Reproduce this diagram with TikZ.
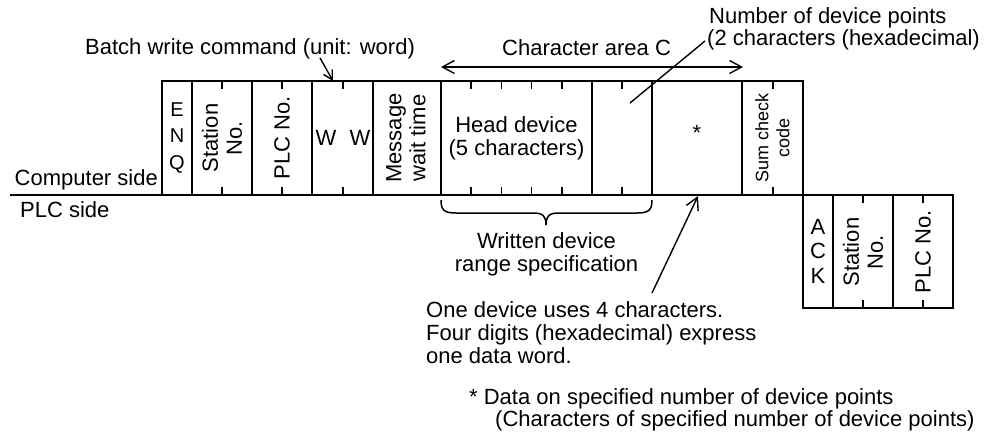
\documentclass[tikz,border=0pt]{standalone}
\usepackage{fontspec}
\setmainfont{Liberation Sans}
\usetikzlibrary{arrows.meta}
\tikzset{
  frame/.style={line width=2pt},
  lbl/.style={inner sep=0pt, font=\fontsize{22}{24}\selectfont},
  vlbl/.style={lbl, rotate=90, align=center},
  lead/.style={line width=1.4pt},
  arr/.style={lead, -{Straight Barb[length=12pt,width=13pt,line width=1.4pt]}},
  dbl/.style={lead, {Straight Barb[length=12pt,width=13pt,line width=1.4pt]}-{Straight Barb[length=12pt,width=13pt,line width=1.4pt]}},
  tickline/.style={line width=1.6pt},
}
\begin{document}
\begin{tikzpicture}[x=1pt,y=-1pt]
\path[use as bounding box] (0,0) rectangle (990,434);

% frames
\draw[frame] (10,195) -- (953,195);
\foreach \a/\b in {162/192,192/252,252/312,312/373,373/441,441/592,592/652,652/742,742/803}
  \draw[frame] (\a,81) rectangle (\b,195);
\foreach \a/\b in {803/833,833/893,893/953}
  \draw[frame] (\a,195) rectangle (\b,308);
\foreach \x in {222,282,343,471.2,501.4,531.6,561.8,622,773} {
  \draw[tickline] (\x,81) -- (\x,89);
  \draw[tickline] (\x,195) -- (\x,187);
}
\foreach \x in {863,923} {
  \draw[tickline] (\x,195) -- (\x,203);
  \draw[tickline] (\x,308) -- (\x,300);
}

% box labels
\node[lbl, align=center, font=\fontsize{20}{26.5}\selectfont] (enq) at (177,138) {E\\N\\Q};
\node[vlbl] (stn) at (222,138) {Station\\No.};
\node[vlbl] (plc) at (282,138) {PLC No.};
\node[lbl] (w1) at (326,138) {W};
\node[lbl] (w2) at (360,138) {W};
\node[vlbl] (msg) at (406,138) {Message\\wait time};
\node[lbl, align=center, font=\fontsize{22}{23}\selectfont] (head) at (516.5,138) {Head device\\(5 characters)};
\node[lbl] (data) at (697,133) {*};
\node[vlbl, font=\fontsize{18}{21}\selectfont] (sum) at (772.5,138) {Sum check\\code};
\node[lbl, align=center, font=\fontsize{22}{24.5}\selectfont] (ack) at (818,251) {A\\C\\K};
\node[vlbl] (stn2) at (863,252) {Station\\No.};
\node[vlbl] (plc2) at (923,252) {PLC No.};

% side labels
\node[lbl, anchor=base east] (comp) at (158,185) {Computer side};
\node[lbl, anchor=base west] (plcside) at (20,217) {PLC side};

% batch write command
\node[lbl, anchor=base west] (batch) at (85,54) {Batch write command (unit: word)};
\coordinate (batchfrom) at (320,58);
\coordinate (batchto) at (333,81);
\draw[lead, -{Straight Barb[length=9pt,width=10pt,line width=1.4pt]}] (batchfrom) -- (batchto);

% character area C
\node[lbl, anchor=base west] (chararea) at (502,55) {Character area C};
\coordinate (cal) at (441,67);
\coordinate (car) at (743,67);
\draw[dbl] (cal) -- (car);

% number of device points
\node[lbl, anchor=base west] (ndp1) at (709,23) {Number of device points};
\node[lbl, anchor=base west] (ndp2) at (707,45) {(2 characters (hexadecimal)};
\coordinate (ndpfrom) at (705,41);
\coordinate (ndpto) at (630,103);
\draw[lead] (ndpfrom) -- (ndpto);

% brace
\draw[line width=1.5pt] (441,200) .. controls (441,210) and (444,213) .. (456,213) -- (533,213)
  .. controls (543,213) and (546,216) .. (546,225)
  .. controls (546,216) and (549,213) .. (559,213) -- (637,213)
  .. controls (649,213) and (652,210) .. (652,200);
\node[lbl, anchor=base] (wr1) at (546.5,248) {Written device};
\node[lbl, anchor=base] (wr2) at (546.5,271) {range specification};

% one device
\node[lbl, anchor=base west] (od1) at (426,317) {One device uses 4 characters.};
\node[lbl, anchor=base west] (od2) at (426,340) {Four digits (hexadecimal) express};
\node[lbl, anchor=base west] (od3) at (426,363) {one data word.};
\coordinate (odfrom) at (652,293);
\coordinate (odto) at (698,196);
\draw[arr] (odfrom) -- (odto);

% footnote
\node[lbl, anchor=base west] (fn1) at (469,404) {* Data on specified number of device points};
\node[lbl, anchor=base west] (fn2) at (495,426) {(Characters of specified number of device points)};
\end{tikzpicture}
\end{document}
